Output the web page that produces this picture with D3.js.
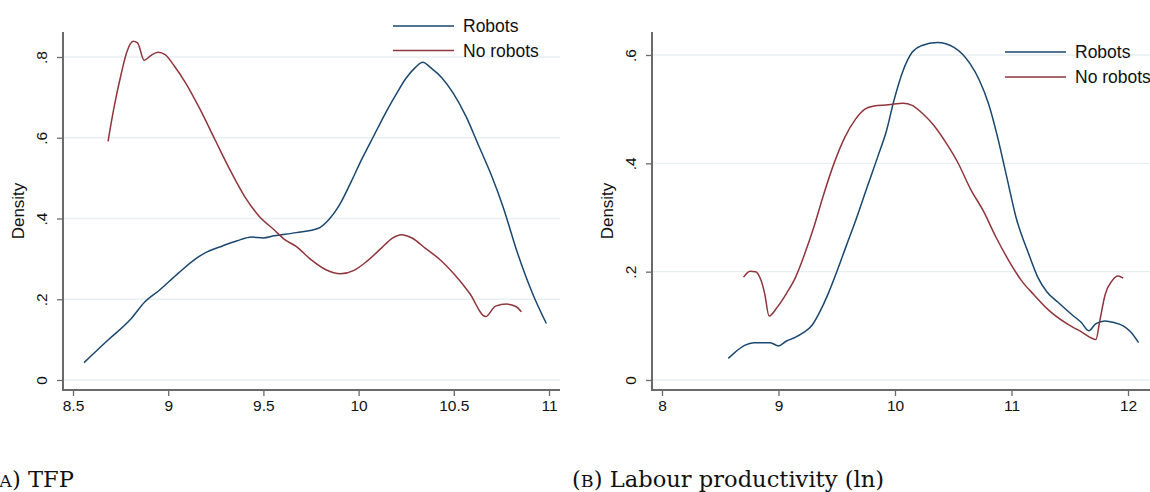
<!DOCTYPE html>
<html>
<head>
<meta charset="utf-8">
<script src="https://cdn.jsdelivr.net/npm/d3@7"></script>
<style>
  body { margin: 0; background: #fff; }
  svg { display: block; }
</style>
</head>
<body>
<svg id="chart" width="1150" height="492"></svg>
<script>
// ---- Panel A: TFP kernel densities ----
const tfpRobotsX = [8.558, 8.684, 8.80, 8.878, 8.955, 9.052, 9.149, 9.207, 9.285, 9.362, 9.44, 9.498, 9.556, 9.672, 9.789, 9.837, 9.905, 9.96, 10.02, 10.08, 10.14, 10.2, 10.25, 10.3, 10.337, 10.38, 10.438, 10.496, 10.564, 10.632, 10.70, 10.758, 10.835, 10.913, 10.986];
const tfpRobotsY = [0.043, 0.099, 0.149, 0.194, 0.223, 0.264, 0.302, 0.318, 0.332, 0.345, 0.354, 0.352, 0.357, 0.365, 0.376, 0.394, 0.438, 0.49, 0.55, 0.605, 0.66, 0.71, 0.748, 0.775, 0.787, 0.773, 0.748, 0.711, 0.653, 0.579, 0.504, 0.43, 0.314, 0.215, 0.14];
const tfpNoRobotsX = [8.684, 8.713, 8.752, 8.781, 8.816, 8.839, 8.874, 8.907, 8.946, 8.984, 9.033, 9.091, 9.169, 9.246, 9.324, 9.401, 9.479, 9.556, 9.614, 9.672, 9.75, 9.828, 9.905, 9.973, 10.041, 10.118, 10.176, 10.225, 10.283, 10.351, 10.428, 10.506, 10.583, 10.667, 10.719, 10.777, 10.826, 10.855];
const tfpNoRobotsY = [0.591, 0.669, 0.756, 0.81, 0.839, 0.835, 0.792, 0.803, 0.812, 0.806, 0.777, 0.736, 0.669, 0.595, 0.521, 0.455, 0.405, 0.372, 0.347, 0.331, 0.298, 0.273, 0.263, 0.271, 0.293, 0.326, 0.351, 0.36, 0.351, 0.326, 0.298, 0.26, 0.215, 0.157, 0.183, 0.188, 0.182, 0.169];
const tfpXTicks = [8.5, 9, 9.5, 10, 10.5, 11];
const tfpXLabels = ["8.5", "9", "9.5", "10", "10.5", "11"];
const tfpYTicks = [0, 0.2, 0.4, 0.6, 0.8];
const tfpYLabels = ["0", ".2", ".4", ".6", ".8"];

// ---- Panel B: labour productivity (ln) kernel densities ----
const lpRobotsX = [8.569, 8.631, 8.709, 8.788, 8.928, 9.0, 9.069, 9.147, 9.209, 9.288, 9.35, 9.428, 9.506, 9.584, 9.663, 9.756, 9.85, 9.928, 9.991, 10.069, 10.147, 10.225, 10.366, 10.506, 10.647, 10.725, 10.803, 10.881, 10.959, 11.038, 11.147, 11.225, 11.303, 11.397, 11.522, 11.6, 11.663, 11.725, 11.803, 11.881, 11.959, 12.022, 12.091];
const lpRobotsY = [0.040, 0.052, 0.064, 0.069, 0.069, 0.063, 0.072, 0.079, 0.087, 0.101, 0.124, 0.16, 0.203, 0.249, 0.295, 0.353, 0.411, 0.461, 0.516, 0.571, 0.605, 0.617, 0.623, 0.614, 0.583, 0.553, 0.51, 0.448, 0.375, 0.301, 0.233, 0.19, 0.163, 0.144, 0.12, 0.106, 0.091, 0.104, 0.109, 0.106, 0.1, 0.089, 0.069];
const lpNoRobotsX = [8.7, 8.756, 8.803, 8.85, 8.881, 8.919, 8.991, 9.069, 9.147, 9.225, 9.303, 9.381, 9.475, 9.569, 9.663, 9.741, 9.819, 9.944, 10.069, 10.147, 10.241, 10.334, 10.444, 10.538, 10.647, 10.756, 10.866, 10.975, 11.084, 11.194, 11.319, 11.475, 11.6, 11.725, 11.756, 11.803, 11.866, 11.913, 11.959];
const lpNoRobotsY = [0.19, 0.201, 0.2, 0.184, 0.16, 0.118, 0.135, 0.16, 0.19, 0.233, 0.282, 0.338, 0.399, 0.448, 0.482, 0.5, 0.506, 0.508, 0.511, 0.507, 0.491, 0.47, 0.436, 0.402, 0.353, 0.313, 0.264, 0.221, 0.184, 0.157, 0.129, 0.104, 0.089, 0.075, 0.107, 0.157, 0.184, 0.192, 0.188];
const lpXTicks = [8, 9, 10, 11, 12];
const lpXLabels = ["8", "9", "10", "11", "12"];
const lpYTicks = [0, 0.2, 0.4, 0.6];
const lpYLabels = ["0", ".2", ".4", ".6"];

const seriesNames = ["Robots", "No robots"];
const seriesColors = ["#1a476f", "#90353b"];

const svg = d3.select("#chart");
const sans = "'Liberation Sans', Arial, sans-serif";
const serif = "'DejaVu Serif', 'Liberation Serif', serif";
const axisColor = "#6a6a6a";
const gridColor = "#e7eff1";

function drawCaption(cfg) {
  const cap = svg.append("text")
    .attr("x", 0).attr("y", 487)
    .attr("fill", "#111")
    .style("font-family", serif)
    .style("font-size", "22.6px");
  const open = cap.append("tspan").text("(");
  const tag = cap.append("tspan").style("font-size", "17.5px").text(cfg.tag);
  const close = cap.append("tspan").text(") ");
  cap.append("tspan").text(cfg.text);
  if (cfg.textStart != null) {
    // place so the caption body starts at the given x
    const prefix = open.node().getComputedTextLength() +
      tag.node().getComputedTextLength() + close.node().getComputedTextLength();
    cap.attr("x", cfg.textStart - prefix);
  } else {
    cap.attr("x", cfg.x);
  }
}

function drawPanel(cfg) {
  const g = svg.append("g");
  const x = d3.scaleLinear().domain(cfg.xDomain).range(cfg.xRange);
  const y = d3.scaleLinear().domain(cfg.yDomain).range(cfg.yRange);

  // horizontal grid lines
  g.append("g").selectAll("line").data(cfg.yTicks).join("line")
    .attr("x1", cfg.frame.left).attr("x2", cfg.frame.right)
    .attr("y1", d => y(d)).attr("y2", d => y(d))
    .attr("stroke", gridColor).attr("stroke-width", 1.3);

  // y axis
  const yAxis = d3.axisLeft(y).tickValues(cfg.yTicks)
    .tickFormat((d, i) => cfg.yLabels[i]).tickSize(6).tickPadding(0);
  const ya = g.append("g").attr("transform", `translate(${cfg.frame.left},0)`).call(yAxis);
  ya.select(".domain").remove();
  ya.selectAll(".tick line").attr("stroke", axisColor).attr("stroke-width", 1.3);
  ya.selectAll(".tick text")
    .attr("transform", "rotate(-90)")
    .attr("x", 0).attr("y", -21).attr("dy", "0.35em")
    .attr("text-anchor", "middle")
    .attr("fill", "#111").style("font-family", sans).style("font-size", "15.5px");

  // x axis
  const xAxis = d3.axisBottom(x).tickValues(cfg.xTicks)
    .tickFormat((d, i) => cfg.xLabels[i]).tickSize(6).tickPadding(4);
  const xa = g.append("g").attr("transform", `translate(0,${cfg.frame.bottom})`).call(xAxis);
  xa.select(".domain").remove();
  xa.selectAll(".tick line").attr("stroke", axisColor).attr("stroke-width", 1.3);
  xa.selectAll(".tick text")
    .attr("fill", "#111").style("font-family", sans).style("font-size", "15.5px");

  // axis lines
  g.append("line")
    .attr("x1", cfg.frame.left).attr("x2", cfg.frame.left)
    .attr("y1", cfg.frame.top).attr("y2", cfg.frame.bottom + 1)
    .attr("stroke", axisColor).attr("stroke-width", 2);
  g.append("line")
    .attr("x1", cfg.frame.left).attr("x2", cfg.frame.right)
    .attr("y1", cfg.frame.bottom).attr("y2", cfg.frame.bottom)
    .attr("stroke", axisColor).attr("stroke-width", 2);

  // axis title
  g.append("text")
    .attr("transform", `translate(${cfg.titleX},${cfg.titleY}) rotate(-90)`)
    .attr("text-anchor", "middle").attr("dy", "0.35em")
    .attr("fill", "#111").style("font-family", sans).style("font-size", "17px")
    .text("Density");

  // density curves
  const line = d3.line().x(d => x(d[0])).y(d => y(d[1])).curve(d3.curveMonotoneX);
  cfg.series.forEach((s, i) => {
    const pts = s.x.map((v, k) => [v, s.y[k]]);
    g.append("path").datum(pts)
      .attr("d", line)
      .attr("fill", "none")
      .attr("stroke", seriesColors[i])
      .attr("stroke-width", 1.5)
      .attr("stroke-linejoin", "round");
  });

  // legend
  const lg = g.append("g").attr("transform", `translate(${cfg.legend.x},${cfg.legend.y})`);
  seriesNames.forEach((name, i) => {
    const row = lg.append("g").attr("transform", `translate(0,${i * cfg.legend.step})`);
    row.append("line").attr("x1", 0).attr("x2", 61).attr("y1", 0).attr("y2", 0)
      .attr("stroke", seriesColors[i]).attr("stroke-width", 1.5);
    row.append("text").attr("x", 70).attr("y", 0).attr("dy", "0.35em")
      .attr("fill", "#111").style("font-family", sans).style("font-size", "17.5px")
      .text(name);
  });

  drawCaption(cfg.caption);
}

drawPanel({
  xDomain: [8.5, 11], xRange: [73, 549],
  yDomain: [0, 0.8], yRange: [380, 57],
  frame: { left: 63, right: 560, top: 32, bottom: 390 },
  xTicks: tfpXTicks, xLabels: tfpXLabels,
  yTicks: tfpYTicks, yLabels: tfpYLabels,
  titleX: 18, titleY: 211,
  series: [{ x: tfpRobotsX, y: tfpRobotsY }, { x: tfpNoRobotsX, y: tfpNoRobotsY }],
  legend: { x: 393, y: 26, step: 24.5 },
  caption: { textStart: 28, tag: "A", text: "TFP" }
});

drawPanel({
  xDomain: [8, 12], xRange: [662, 1128],
  yDomain: [0, 0.6], yRange: [380, 55],
  frame: { left: 652, right: 1150, top: 32, bottom: 390 },
  xTicks: lpXTicks, xLabels: lpXLabels,
  yTicks: lpYTicks, yLabels: lpYLabels,
  titleX: 607, titleY: 211,
  series: [{ x: lpRobotsX, y: lpRobotsY }, { x: lpNoRobotsX, y: lpNoRobotsY }],
  legend: { x: 1005, y: 52, step: 25 },
  caption: { x: 572, tag: "B", text: "Labour productivity (ln)" }
});
</script>
</body>
</html>
